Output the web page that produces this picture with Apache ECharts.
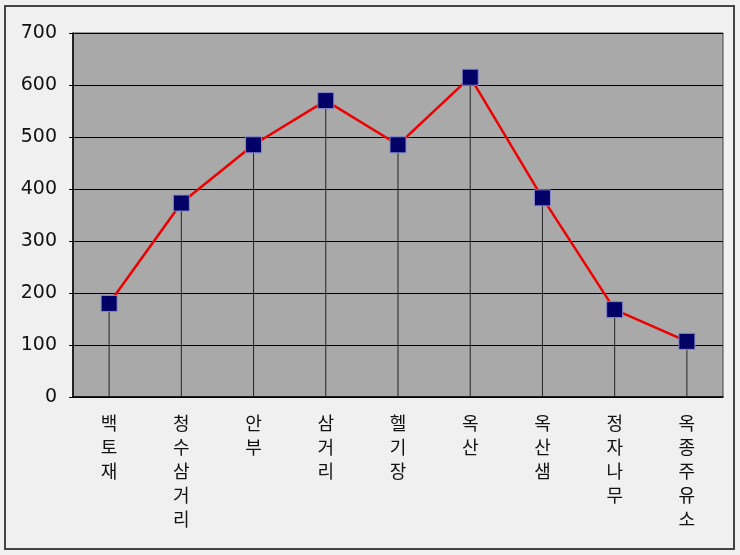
<!DOCTYPE html>
<html><head><meta charset="utf-8">
<script src="https://cdn.jsdelivr.net/npm/echarts@6/dist/echarts.min.js"></script>
<style>
html,body{margin:0;padding:0;background:#f0f0f0;}
#frame{position:absolute;left:4px;top:5px;width:727px;height:541px;border:2px solid #444;box-sizing:content-box;}
#c{position:absolute;left:0;top:0;width:740px;height:555px;}
</style></head>
<body>
<div id="frame"></div>
<div id="c"></div>
<script>
const categories = ['백토재','청수삼거리','안부','삼거리','헬기장','옥산','옥산샘','정자나무','옥종주유소'];
const values = [180, 373, 485, 570, 485, 615, 383, 168, 107];
const yTicks = [0, 100, 200, 300, 400, 500, 600, 700];

const chart = echarts.init(document.getElementById('c'));
chart.setOption({
  animation: false,
  backgroundColor: 'transparent',
  grid: {left: 73, top: 33, right: 17, bottom: 158, show: true, backgroundColor: '#a9a9a9', borderColor: '#444', borderWidth: 1},
  xAxis: {
    type: 'category', data: categories, boundaryGap: true,
    axisLine: {show: true, lineStyle: {color: '#000', width: 1.5}},
    axisTick: {show: false},
    axisLabel: {
      interval: 0, margin: 14, color: '#111', fontSize: 18, lineHeight: 24,
      fontFamily: 'Noto Sans CJK KR',
      verticalAlign: 'top',
      formatter: v => v.split('').join('\n')
    }
  },
  yAxis: {
    type: 'value', min: yTicks[0], max: yTicks[yTicks.length-1], interval: 100,
    axisLine: {show: true, lineStyle: {color: '#000', width: 1.5}},
    axisTick: {show: true, length: 4, lineStyle: {color: '#000'}},
    splitLine: {show: true, lineStyle: {color: '#000', width: 1}},
    axisLabel: {color: '#111', fontSize: 19, fontFamily: 'DejaVu Sans', margin: 16}
  },
  series: [
    {
      type: 'bar', data: values, barWidth: 1, barGap: '-100%',
      itemStyle: {color: '#222'}, silent: true, z: 1
    },
    {
      type: 'line', data: values, z: 3,
      lineStyle: {color: '#ee0000', width: 2.5},
      symbol: 'rect', symbolSize: 16,
      itemStyle: {color: '#000066', borderColor: '#8888cc', borderWidth: 1}
    }
  ]
});
</script>
</body></html>
